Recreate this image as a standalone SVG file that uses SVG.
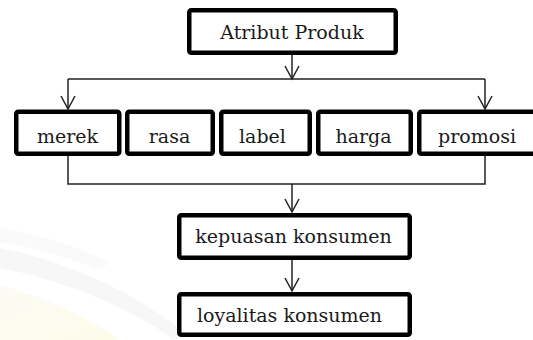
<svg xmlns="http://www.w3.org/2000/svg" width="533" height="340" viewBox="0 0 533 340">
<style>
.box{fill:#fff;stroke:#000;stroke-width:4.5;}
.lbl{font-family:"DejaVu Serif","Liberation Serif",serif;font-size:19px;fill:#1a1a1a;text-anchor:middle;}
.ln{fill:none;stroke:#222;stroke-width:1.5;}
.hd{fill:none;stroke:#222;stroke-width:1.5;stroke-linejoin:miter;}
</style>
<defs>
<linearGradient id="wm" x1="0" y1="0" x2="1" y2="1">
<stop offset="0" stop-color="#fcfbf4"/>
<stop offset="1" stop-color="#fdfcea"/>
</linearGradient>
</defs>
<rect width="533" height="340" fill="#fff"/>
<g id="watermark">
<path d="M0 285 Q60 300 120 340 L0 340 Z" fill="url(#wm)"/>
<path d="M0 248 Q100 268 185 332 L175 340 Q100 288 0 268 Z" fill="#f3f3f3" opacity="0.7"/>
<path d="M0 228 Q60 238 110 262 L100 270 Q50 250 0 242 Z" fill="#f7f7f7" opacity="0.6"/>
</g>
<g id="connectors">
<path class="ln" d="M292 55 V79"/>
<path class="hd" d="M285 66 L292 79 L299 66"/>
<path class="ln" d="M68 79 H485"/>
<path class="ln" d="M68 79 V109"/>
<path class="hd" d="M61 96 L68 109 L75 96"/>
<path class="ln" d="M485 79 V109"/>
<path class="hd" d="M478 96 L485 109 L492 96"/>
<path class="ln" d="M68 156 V184 H485 V156"/>
<path class="ln" d="M292 184 V212"/>
<path class="hd" d="M285 199 L292 212 L299 199"/>
<path class="ln" d="M292 260 V291"/>
<path class="hd" d="M285 278 L292 291 L299 278"/>
</g>
<g id="atribut-produk">
<rect class="box" x="189.25" y="10.25" width="206.5" height="42.5" rx="2"/>
<text class="lbl" x="292" y="39">Atribut Produk</text>
</g>
<g id="merek">
<rect class="box" x="16.25" y="111.75" width="103" height="42" rx="2"/>
<text class="lbl" x="67.5" y="143">merek</text>
</g>
<g id="rasa">
<rect class="box" x="127.25" y="111.75" width="85.5" height="42" rx="2"/>
<text class="lbl" x="169.5" y="143">rasa</text>
</g>
<g id="label">
<rect class="box" x="221.25" y="111.75" width="88.5" height="42" rx="2"/>
<text class="lbl" x="262.5" y="143">label</text>
</g>
<g id="harga">
<rect class="box" x="318.25" y="111.75" width="92.5" height="42" rx="2"/>
<text class="lbl" x="363.5" y="143">harga</text>
</g>
<g id="promosi">
<rect class="box" x="419.25" y="111.75" width="120" height="42" rx="2"/>
<text class="lbl" x="477" y="143">promosi</text>
</g>
<g id="kepuasan-konsumen">
<rect class="box" x="179.25" y="215.25" width="230.5" height="42.5" rx="2"/>
<text class="lbl" x="293.5" y="243">kepuasan konsumen</text>
</g>
<g id="loyalitas-konsumen">
<rect class="box" x="179.25" y="294.25" width="230.5" height="40.5" rx="2"/>
<text class="lbl" x="289.5" y="322">loyalitas konsumen</text>
</g>
</svg>
